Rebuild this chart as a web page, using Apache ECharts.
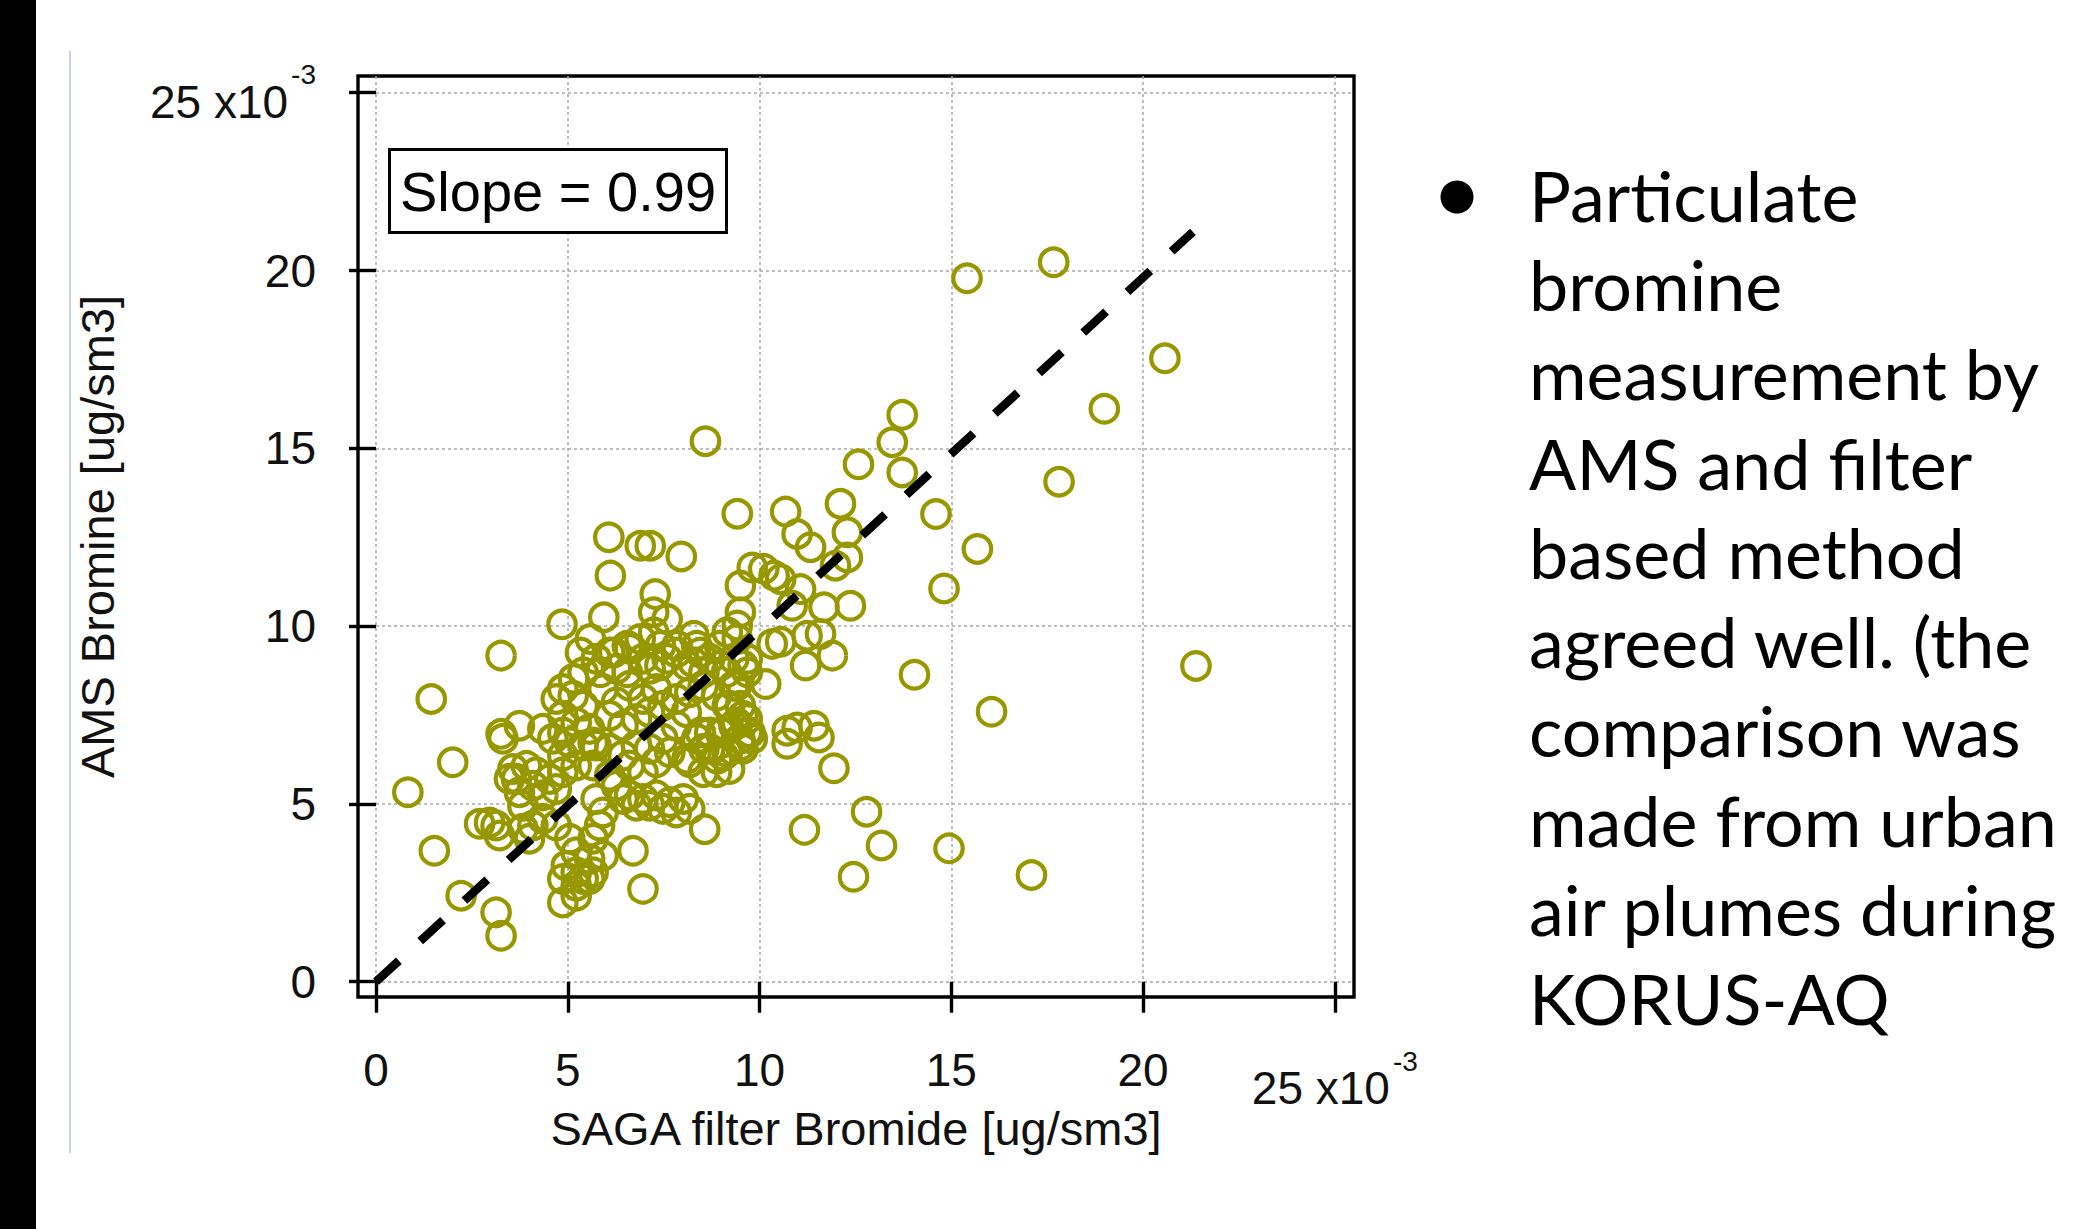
<!DOCTYPE html>
<html><head><meta charset="utf-8">
<script src="https://cdn.jsdelivr.net/npm/echarts@6/dist/echarts.min.js"></script>
<style>html,body{margin:0;padding:0;background:#fff;overflow:hidden}#chart{width:2098px;height:1229px}</style>
</head><body><div id="chart"></div>
<script>
// ---- data (units: x10^-3 ug/sm3) ----
const tickValues = [0, 5, 10, 15, 20, 25];
const xTitle = 'SAGA filter Bromide [ug/sm3]';
const yTitle = 'AMS Bromine [ug/sm3]';
const slopeLabel = 'Slope = 0.99';
const slope = 0.99;
const fitRange = [0, 21.3];
const filterBromide = [
15.41,17.67,20.57,18.99,17.81,13.72,13.46,13.72,12.58,14.60,15.68,14.81,12.11,10.68,10.98,11.33,12.29,12.29,11.98,10.55,
11.07,11.68,12.37,10.85,11.24,11.59,11.90,10.55,11.20,14.04,21.38,16.05,10.72,10.98,11.42,11.55,10.72,11.94,12.79,11.17,
13.18,14.94,12.45,17.09,8.59,9.42,6.07,6.89,7.15,7.96,6.11,7.28,9.81,10.11,10.38,9.50,9.50,5.94,4.85,7.24,
7.59,10.33,10.16,9.42,9.33,3.26,1.44,2.00,0.83,1.52,2.22,3.13,3.26,6.70,6.96,8.57,4.87,5.22,5.57,2.96,
3.13,3.22,2.70,3.31,3.26,3.74,4.35,3.57,3.48,3.92,4.18,4.09,3.74,3.66,3.83,4.09,3.83,4.00,4.35,4.70,
5.05,5.22,4.96,5.22,4.87,5.57,5.66,5.40,5.22,5.92,5.83,5.66,5.92,5.74,4.53,4.70,4.35,4.87,5.22,4.87,
4.87,4.70,5.14,5.40,4.87,5.22,5.57,4.61,5.05,5.40,4.87,5.66,5.40,5.74,6.09,6.27,6.61,6.96,5.92,6.27,
6.61,6.96,7.31,6.09,6.44,6.79,7.13,7.48,5.74,6.09,6.44,6.79,7.13,5.66,6.09,6.61,6.96,7.31,6.27,6.61,
6.96,7.31,7.66,8.01,8.18,7.83,7.48,7.13,6.79,6.44,7.66,7.48,7.83,8.18,8.53,8.88,9.22,9.57,9.75,9.40,
9.05,8.70,8.36,8.70,9.05,9.49,9.57,9.22,8.88,8.53,8.18,7.83,8.09,9.40,9.14,9.57,8.70,8.27,7.83,7.40,
8.36,8.96,5.59,5.33,6.20,6.55,6.89,7.24,7.42,7.85,8.29,8.46,9.16,9.42,8.98,8.55,8.11,7.59,7.15,6.55,
5.85,5.15,9.68,9.68,9.33,9.16,9.50,9.68,9.33,8.98,9.68,9.50,9.16,8.90,8.46,8.55,8.11,9.81
];
const amsBromine = [
19.78,20.23,17.53,16.11,14.06,15.94,15.17,14.32,14.55,13.15,12.17,11.06,13.44,13.22,12.59,12.22,12.64,11.93,11.70,11.32,
11.04,10.53,10.57,10.57,9.73,9.78,9.17,9.56,8.89,8.63,8.88,7.59,7.06,7.15,7.20,6.87,6.69,6.00,4.78,4.27,
3.83,3.75,2.95,3.00,15.20,13.16,12.50,12.26,12.26,11.96,11.42,10.90,11.65,11.61,11.42,11.14,10.39,10.25,10.05,10.39,
10.20,9.50,8.37,9.64,9.08,9.17,7.95,6.17,5.33,3.68,2.42,1.95,1.29,3.68,2.61,4.29,2.23,2.42,2.89,4.48,
4.39,4.11,4.44,6.83,6.97,7.20,7.11,5.98,5.71,6.07,5.89,5.51,5.33,5.71,4.95,4.39,4.30,4.02,4.58,4.39,
4.02,3.64,3.26,3.08,2.89,3.45,3.08,2.89,2.70,3.54,4.39,4.02,4.76,5.14,5.70,5.42,5.24,5.89,6.08,6.36,
8.23,7.95,8.04,7.76,7.48,7.29,7.11,6.83,6.73,6.64,7.01,6.73,8.70,9.08,9.26,8.80,9.36,9.08,8.23,7.86,
8.32,7.95,8.23,7.48,7.20,7.39,7.58,7.76,6.64,6.55,6.36,6.64,6.55,6.08,5.79,6.08,5.89,6.17,5.51,5.24,
5.14,5.24,5.05,5.14,4.86,4.76,4.86,4.95,4.95,5.14,6.45,6.83,7.20,6.17,5.89,5.89,5.98,6.55,7.01,7.29,
7.01,7.01,6.83,6.55,6.36,6.83,7.48,7.76,8.04,8.32,8.14,7.95,7.58,8.32,8.70,8.89,9.08,8.98,9.26,8.89,
9.45,9.45,9.64,9.26,9.26,9.45,9.64,9.83,9.45,9.45,9.73,9.26,9.83,10.02,8.89,8.70,8.89,9.08,8.80,8.70,
8.70,8.52,9.08,8.70,8.32,7.76,7.76,7.39,7.20,7.01,7.01,6.64,6.45,6.27,7.01,6.55,6.27,6.83
];
const noteLines = [
'Particulate','bromine','measurement by','AMS and filter','based method',
'agreed well. (the','comparison was','made from urban','air plumes during','KORUS-AQ'
];

// ---- layout / style ----
const FONT = 'Liberation Sans, Arial, sans-serif';
const NOTE_FONT = 'Lato';
const meas = document.createElement('canvas').getContext('2d');
meas.font = '100px ' + NOTE_FONT;
const noteSize = Math.round(100 * 527 / meas.measureText('made from urban').width);

function tickLabel(v) {
  return v === 25 ? '{n|25 x10}{s|-3}' : String(v);
}
const labelRich = {
  n: {fontSize: 46, fontFamily: FONT, color: '#111', padding: [18, 0, 0, 0]},
  s: {fontSize: 28, fontFamily: FONT, color: '#111', verticalAlign: 'top', padding: [0, 0, 0, 3]}
};
const gridLine = {show: true, lineStyle: {color: '#a8a8a8', width: 1.5, type: [3, 3]}};

const chart = echarts.init(document.getElementById('chart'), null, {renderer: 'svg'});
chart.setOption({
  animation: false,
  backgroundColor: '#fff',
  title: {
    text: slopeLabel, left: 389, top: 149, padding: [14, 11, 14, 11],
    borderColor: '#000', borderWidth: 3, backgroundColor: '#fff',
    textStyle: {fontSize: 56, fontWeight: 'normal', color: '#000', fontFamily: FONT}
  },
  grid: {
    left: 358, top: 76, right: 744, bottom: 232,
    show: true, borderColor: '#000', borderWidth: 3.4, backgroundColor: 'transparent',
    containLabel: false, outerBoundsMode: 'none'
  },
  xAxis: {
    type: 'value', min: -0.47, max: 25.5,
    name: xTitle, nameLocation: 'middle', nameGap: 108, nameMoveOverlap: false,
    nameTextStyle: {fontSize: 47, fontFamily: FONT, color: '#111'},
    axisLine: {show: false},
    axisTick: {show: true, inside: false, length: 31, customValues: tickValues, lineStyle: {color: '#000', width: 3.4}},
    axisLabel: {customValues: tickValues, margin: 50, fontSize: 46, fontFamily: FONT, color: '#111', formatter: tickLabel, rich: labelRich},
    splitLine: gridLine
  },
  yAxis: {
    type: 'value', min: -0.43, max: 25.47,
    name: yTitle, nameLocation: 'middle', nameGap: 237, nameMoveOverlap: false,
    nameTextStyle: {fontSize: 47, fontFamily: FONT, color: '#111'},
    axisLine: {show: false},
    axisTick: {show: true, inside: false, length: 27, customValues: tickValues, lineStyle: {color: '#000', width: 3.4}},
    axisLabel: {customValues: tickValues, margin: 42, fontSize: 46, fontFamily: FONT, color: '#111', formatter: tickLabel, rich: labelRich},
    splitLine: gridLine
  },
  series: [
    {
      type: 'scatter', silent: true, z: 2,
      data: filterBromide.map((x, i) => [x, amsBromine[i]]),
      symbol: 'circle', symbolSize: 27.5,
      itemStyle: {color: 'rgba(255,255,255,0)', borderColor: '#979700', borderWidth: 4.2, opacity: 1}
    },
    {
      type: 'line', silent: true, z: 3, symbol: 'none', showSymbol: false,
      data: fitRange.map(x => [x, slope * x]),
      lineStyle: {color: '#000', width: 8.5, type: [31, 29], cap: 'butt'}
    }
  ],
  graphic: [
    {type: 'rect', shape: {x: 0, y: 0, width: 36, height: 1229}, style: {fill: '#000'}, silent: true},
    {type: 'line', shape: {x1: 70, y1: 51, x2: 70, y2: 1153}, style: {stroke: '#c9d3e6', lineWidth: 2}, silent: true},
    {type: 'circle', shape: {cx: 1457, cy: 197, r: 16.5}, style: {fill: '#000'}, silent: true},
    {type: 'text', x: 1529, y: 150, silent: true,
     style: {text: noteLines.join('\n'), fontSize: noteSize, fontFamily: NOTE_FONT, fill: '#000', lineHeight: 89.3, verticalAlign: 'top'}}
  ]
});
</script></body></html>
